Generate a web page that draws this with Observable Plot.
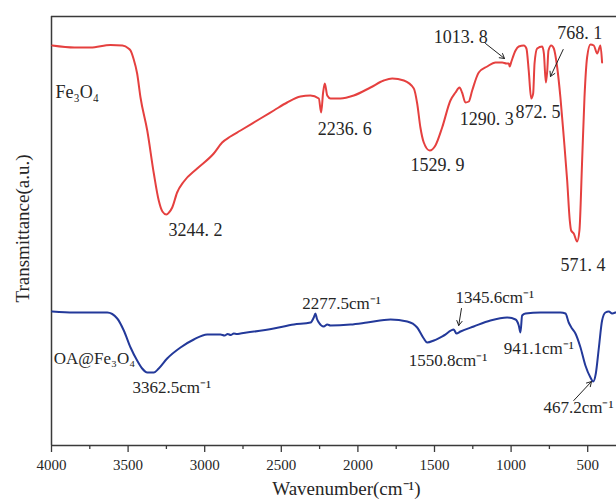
<!DOCTYPE html>
<html>
<head>
<meta charset="utf-8">
<script src="https://cdn.jsdelivr.net/npm/d3@7"></script>
<script src="https://cdn.jsdelivr.net/npm/@observablehq/plot@0.6"></script>
<style>
  html, body { margin: 0; padding: 0; background: #fff; }
  svg text { font-family: 'Liberation Serif', 'Times New Roman', serif; }
</style>
</head>
<body>
<div id="chart"></div>
<script>
// Fe3O4 spectrum (wavenumber cm-1, transmittance a.u.)
const wnFe = [3995,3850,3745,3615,3537,3497,3484,3465,3441,3419,3375,3332,3300,3276,3250,3233,3212,3180,3136,3049,2941,2886,2832,2766,2636,2549,2462,2375,2310,2255,2240,2227,2216,2200,2179,2114,2027,1918,1831,1776,1700,1635,1613,1592,1570,1531,1494,1450,1396,1363,1337,1320,1298,1276,1254,1211,1156,1102,1058,1030,1015,1009,998,971,950,917,900,885,869,856,847,830,797,786,773,764,756,738,721,699,678,656,634,617,608,591,569,554,537,521,504,482,460,438,417,406];
const tFe  = [400,398,398,400.5,400,397,395,387,372,348,315,272,245,234,231,233,238,253,264,277,292,303,309,315,327,335,343,349,350,347,333,353,362,350,347,347,350,358,365,367,365,357,342,318,303,295,300,318,345,353,358,353,343,344,355,373,379,383,383,382,382,379,384,395,399,400,397,375,347,352,382,397,399,392,363,375,395,400,397,378,348,308,265,225,215,212,204,215,282,348,388,401,400,392,400,383];

// OA@Fe3O4 spectrum
const wnOA = [3995,3854,3636,3571,3528,3484,3441,3408,3375,3332,3300,3245,3158,3071,2984,2897,2870,2850,2830,2810,2790,2766,2549,2418,2309,2288,2277,2268,2255,2223,2200,2179,2048,1940,1787,1678,1613,1570,1548,1504,1439,1374,1357,1330,1244,1135,1026,971,950,939,928,906,808,678,645,624,602,580,547,515,482,464,447,427,406,384,362,341,319];
const tOA  = [134,133,133,127,115,98,85,77,73,73,77,87,98,106,111,111,110,111.5,110.5,112,111.5,112,117,121,123,128,132,127,123,119,121,120,121,123,126,124,118,107,103,105,110,116,112,114,119,125,128,126,120,113,130,132,133,133,132,123,117,112,98,80,68,64,72,98,125,133,134,132,133];

const majorTicks = [4000,3500,3000,2500,2000,1500,1000,500];
const minorTicks = [3750,3250,2750,2250,1750,1250,750];

const seriesNames = ["Fe₃O₄", "OA@Fe₃O₄"];
const peaksFe = ["3244. 2","2236. 6","1529. 9","1290. 3","872. 5","1013. 8","768. 1","571. 4"];
const peaksOA = ["3362.5cm⁻¹","2277.5cm⁻¹","1345.6cm⁻¹","1550.8cm⁻¹","941.1cm⁻¹","467.2cm⁻¹"];
const xTitle = "Wavenumber(cm⁻¹)";
const yTitle = "Transmittance(a.u.)";

const fe = wnFe.map((w, i) => ({w, t: tFe[i]}));
const oa = wnOA.map((w, i) => ({w, t: tOA[i]}));

// annotation placements (data coordinates)
const feLabelPos = [[3236,215],[2262,316],[1657,280],[1335,326],[971,333],[1505,408],[699,412],[678,180]];
const oaLabelPos = [[3471,58],[2364,142],[1363,148],[1668,85],[1048,97],[789,38]];
const feLabels = peaksFe.map((s, i) => ({s, w: feLabelPos[i][0], t: feLabelPos[i][1]}));
const oaLabels = peaksOA.map((s, i) => ({s, w: oaLabelPos[i][0], t: oaLabelPos[i][1]}));
const arrows = [
  {x1: 1167, y1: 402, x2: 1043, y2: 387},
  {x1: 660, y1: 396, x2: 743, y2: 369},
  {x1: 1324, y1: 137, x2: 1342, y2: 120},
  {x1: 591, y1: 45, x2: 475, y2: 64}
];

const axisColor = "#3a3a3a";
const textColor = "#262626";
const font = "'Liberation Serif', 'Times New Roman', serif";

const chart = Plot.plot({
  width: 616,
  height: 499,
  marginLeft: 51,
  marginRight: 0,
  marginTop: 16,
  marginBottom: 54,
  style: {fontFamily: font, background: "#fff", color: textColor, overflow: "visible"},
  x: {domain: [4000, 312]},
  y: {domain: [0, 429], axis: null},
  marks: [
    Plot.axisX({ticks: majorTicks, tickFormat: d => String(d), tickSize: 7, tickPadding: 7, fontSize: 15, fontFamily: font, label: null, stroke: axisColor, strokeWidth: 1.3, fill: textColor}),
    Plot.axisX({ticks: minorTicks, tickSize: 4, tickFormat: () => "", label: null, stroke: axisColor, strokeWidth: 1.3}),
    Plot.ruleY([0], {stroke: axisColor, strokeWidth: 1.5}),
    Plot.ruleY([429], {stroke: axisColor, strokeWidth: 1.5}),
    Plot.ruleX([4000], {stroke: axisColor, strokeWidth: 1.5}),
    Plot.line(fe, {x: "w", y: "t", stroke: "#e5403f", strokeWidth: 2, curve: "monotone-x"}),
    Plot.line(oa, {x: "w", y: "t", stroke: "#23399a", strokeWidth: 2, curve: "monotone-x"}),
    Plot.text([seriesNames[0]], {x: 3974, y: 353, text: d => d, textAnchor: "start", fontSize: 18, fill: textColor}),
    Plot.text([seriesNames[1]], {x: 3985, y: 87, text: d => d, textAnchor: "start", fontSize: 17, fill: textColor}),
    Plot.text(feLabels, {x: "w", y: "t", text: "s", textAnchor: "start", fontSize: 18, fill: textColor}),
    Plot.text(oaLabels, {x: "w", y: "t", text: "s", textAnchor: "start", fontSize: 17, fill: textColor}),
    Plot.arrow(arrows, {x1: "x1", y1: "y1", x2: "x2", y2: "y2", stroke: "#222", strokeWidth: 1, headLength: 8, bend: false}),
    Plot.text([xTitle], {x: 2075, y: -43, text: d => d, fontSize: 19, fill: textColor}),
    Plot.text([yTitle], {x: 4189, y: 217, text: d => d, rotate: -90, fontSize: 19, fill: textColor})
  ]
});
document.getElementById("chart").appendChild(chart);
</script>
</body>
</html>
